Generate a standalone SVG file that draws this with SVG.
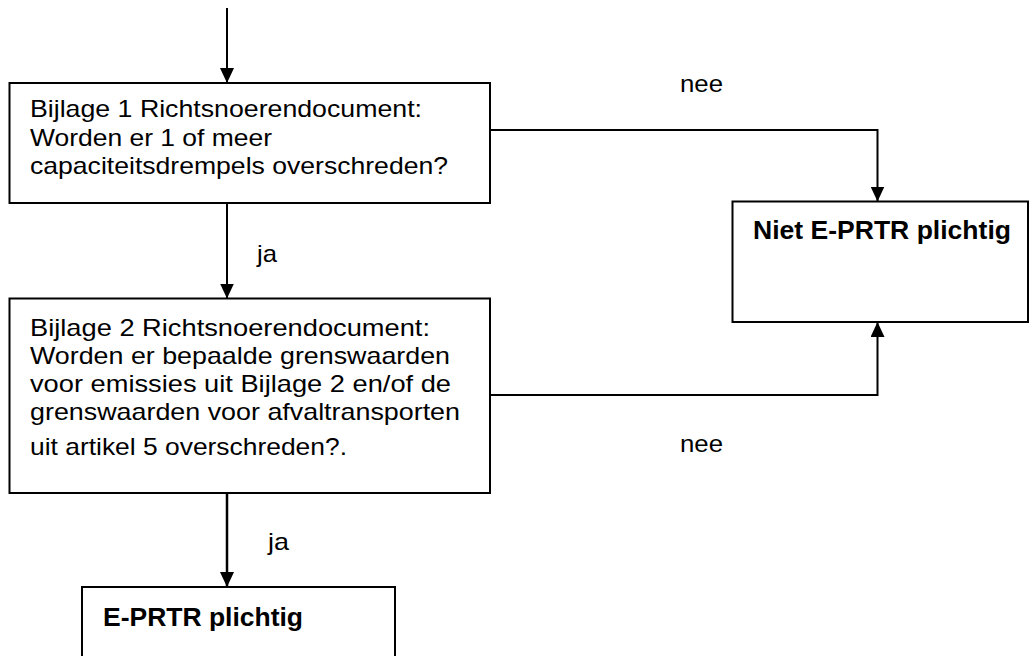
<svg xmlns="http://www.w3.org/2000/svg" width="1036" height="656" viewBox="0 0 1036 656">
  <style>
    .box { fill: #ffffff; stroke: #000000; stroke-width: 2; }
    .conn { fill: none; stroke: #000000; stroke-width: 2; }
    .t { font-family: "Liberation Sans", Arial, sans-serif; font-size: 24px; fill: #000000; }
    .b { font-family: "Liberation Sans", Arial, sans-serif; font-size: 26px; font-weight: bold; fill: #000000; }
  </style>
  <defs>
    <marker id="arr" viewBox="0 0 15 14" refX="15" refY="7" markerWidth="15" markerHeight="14" markerUnits="userSpaceOnUse" orient="auto">
      <path d="M0,0 L15,7 L0,14 z" fill="#000000"/>
    </marker>
  </defs>
  <rect x="0" y="0" width="1036" height="656" fill="#ffffff"/>

  <g id="connectors">
    <path class="conn" d="M227,8 L227,83" marker-end="url(#arr)"/>
    <path class="conn" d="M227,203 L227,298.5" marker-end="url(#arr)"/>
    <path class="conn" d="M227,493 L227,587" style="stroke-width:2.5" marker-end="url(#arr)"/>
    <path class="conn" d="M490,130 L877.5,130 L877.5,201.5" marker-end="url(#arr)"/>
    <path class="conn" d="M490,395 L877.5,395 L877.5,322" marker-end="url(#arr)"/>
    <text class="t" x="680" y="92" textLength="43" lengthAdjust="spacingAndGlyphs">nee</text>
    <text class="t" x="680" y="452" textLength="43" lengthAdjust="spacingAndGlyphs">nee</text>
    <text class="t" x="257" y="262" textLength="20" lengthAdjust="spacingAndGlyphs">ja</text>
    <text class="t" x="268" y="550" textLength="21" lengthAdjust="spacingAndGlyphs">ja</text>
  </g>

  <g id="node-bijlage1">
    <rect class="box" x="9.5" y="83" width="480.5" height="120"/>
    <text class="t" x="30" y="117" textLength="392" lengthAdjust="spacingAndGlyphs">Bijlage 1 Richtsnoerendocument:</text>
    <text class="t" x="30" y="145.5" textLength="242" lengthAdjust="spacingAndGlyphs">Worden er 1 of meer</text>
    <text class="t" x="30" y="174" textLength="418" lengthAdjust="spacingAndGlyphs">capaciteitsdrempels overschreden?</text>
  </g>

  <g id="node-bijlage2">
    <rect class="box" x="9.5" y="298.5" width="480.5" height="194.5"/>
    <text class="t" x="30" y="335.5" textLength="400" lengthAdjust="spacingAndGlyphs">Bijlage 2 Richtsnoerendocument:</text>
    <text class="t" x="30" y="363.5" textLength="420" lengthAdjust="spacingAndGlyphs">Worden er bepaalde grenswaarden</text>
    <text class="t" x="30" y="391.5" textLength="421" lengthAdjust="spacingAndGlyphs">voor emissies uit Bijlage 2 en/of de</text>
    <text class="t" x="30" y="419.5" textLength="430" lengthAdjust="spacingAndGlyphs">grenswaarden voor afvaltransporten</text>
    <text class="t" x="30" y="455" textLength="317" lengthAdjust="spacingAndGlyphs">uit artikel 5 overschreden?.</text>
  </g>

  <g id="node-niet">
    <rect class="box" x="732.5" y="201.5" width="295.5" height="120.5"/>
    <text class="b" x="753" y="239" textLength="258" lengthAdjust="spacingAndGlyphs">Niet E-PRTR plichtig</text>
  </g>

  <g id="node-eprtr">
    <rect class="box" x="82" y="587" width="313" height="80"/>
    <text class="b" x="103" y="626" textLength="200" lengthAdjust="spacingAndGlyphs">E-PRTR plichtig</text>
  </g>
</svg>
